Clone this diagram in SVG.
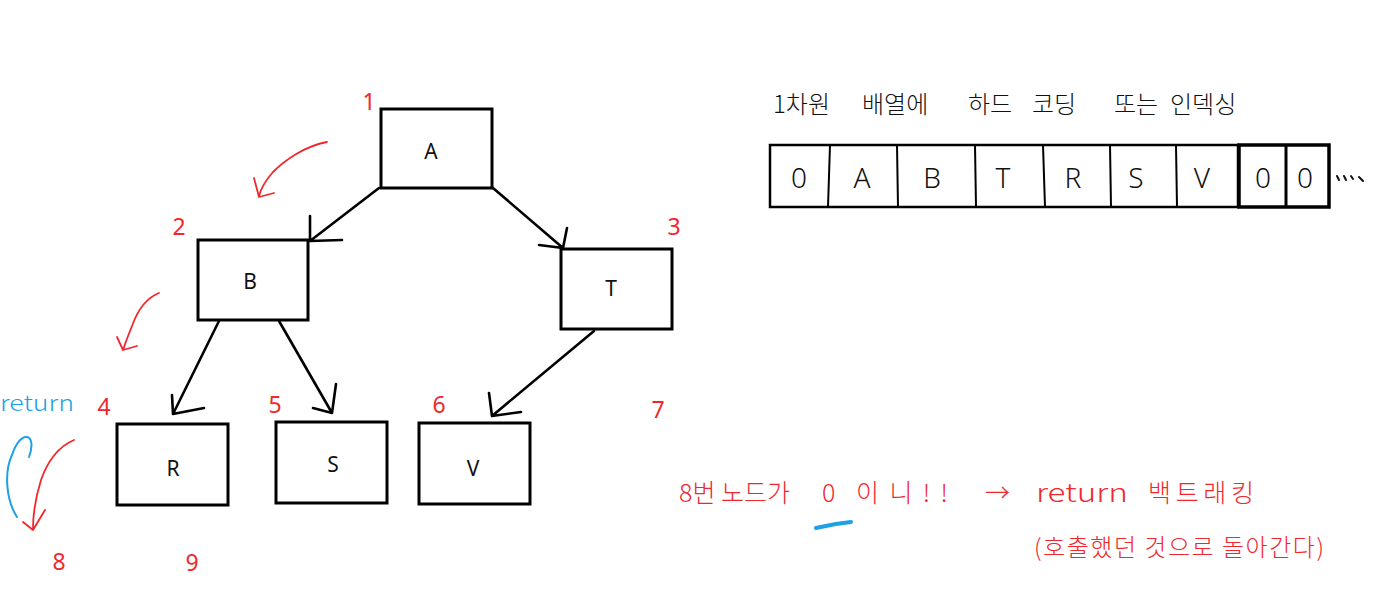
<svg xmlns="http://www.w3.org/2000/svg" width="1397" height="604" viewBox="0 0 1397 604">
<style>
.box{fill:#fff;stroke:#000;stroke-width:3}
.lbl{font-family:"Noto Sans","Liberation Sans",sans-serif;font-size:21px;fill:#111;text-anchor:middle}
.num{font-family:"Noto Sans","Liberation Sans",sans-serif;font-size:23px;fill:#f0282d;text-anchor:middle}
.edge{fill:none;stroke:#000;stroke-width:2.6;stroke-linecap:round;stroke-linejoin:round}
.red{fill:none;stroke:#f0282d;stroke-width:1.8;stroke-linecap:round;stroke-linejoin:round}
.blue{fill:none;stroke:#1ea0e6;stroke-width:2;stroke-linecap:round;stroke-linejoin:round}
.hw{font-family:"Noto Sans CJK KR","Noto Sans",sans-serif;font-weight:300}
.cell{font-family:"Noto Sans","Liberation Sans",sans-serif;font-weight:300;font-size:28px;fill:#111;text-anchor:middle}
.arr{fill:none;stroke:#000;stroke-width:2}
</style>
<rect width="1397" height="604" fill="#fff"/>

<g id="connectors">
  <path class="edge" d="M379 188 L310 241 M310 216 L310 241 L342 240"/>
  <path class="edge" d="M493 188 L563 248 M567 228 L563 248 L539 245"/>
  <path class="edge" d="M219 321 L173 414 M172 395 L173 414 L204 408"/>
  <path class="edge" d="M279 321 L332 413 M336 384 L332 413 L313 408"/>
  <path class="edge" d="M594 331 L492 416 M489 393 L492 416 L521 412"/>
</g>

<g id="node-A"><rect class="box" x="381" y="109" width="111" height="79"/><text class="lbl" x="431" y="159">A</text></g>
<g id="node-B"><rect class="box" x="198" y="240" width="110" height="80"/><text class="lbl" x="250" y="289">B</text></g>
<g id="node-T"><rect class="box" x="561" y="249" width="111" height="80"/><text class="lbl" x="611" y="296">T</text></g>
<g id="node-R"><rect class="box" x="117" y="424" width="111" height="81"/><text class="lbl" x="173" y="476">R</text></g>
<g id="node-S"><rect class="box" x="276" y="422" width="111" height="81"/><text class="lbl" x="333" y="472">S</text></g>
<g id="node-V"><rect class="box" x="419" y="423" width="111" height="81"/><text class="lbl" x="473" y="476">V</text></g>

<g id="numbers">
  <text class="num" x="369" y="110">1</text>
  <text class="num" x="179" y="235">2</text>
  <text class="num" x="674" y="235">3</text>
  <text class="num" x="104" y="415">4</text>
  <text class="num" x="275" y="413">5</text>
  <text class="num" x="439" y="413">6</text>
  <text class="num" x="658" y="418">7</text>
  <text class="num" x="59" y="570">8</text>
  <text class="num" x="192" y="571">9</text>
</g>

<g id="traversal-marks">
  <path class="red" d="M327 142 C305 146 285 160 273 172 C266 180 261 188 259 196 M254 178 L259 197 L274 193"/>
  <path class="red" d="M159 293 C146 298 137 312 132 326 C128 336 125 344 123 350 M117 337 L123 350 L137 346"/>
  <path class="red" d="M74 440 C60 446 48 460 41 480 C36 496 33 512 33 529 M23 522 L33 530 L45 510"/>
  <path class="blue" d="M17 517 C6 500 4 472 12 455 C16 443 22 436 27 437 C32 438 33 446 29 457"/>
  <text class="hw" x="0" y="411" font-size="22" fill="#1ea0e6" textLength="74" lengthAdjust="spacingAndGlyphs">return</text>
</g>

<g id="array">
  <text class="hw" x="773" y="113" font-size="24" fill="#111">1차원</text>
  <text class="hw" x="862" y="113" font-size="24" fill="#111">배열에</text>
  <text class="hw" x="968" y="113" font-size="24" fill="#111">하드</text>
  <text class="hw" x="1032" y="113" font-size="24" fill="#111">코딩</text>
  <text class="hw" x="1114" y="113" font-size="24" fill="#111">또는</text>
  <text class="hw" x="1170" y="113" font-size="24" fill="#111">인덱싱</text>
  <rect x="770" y="145" width="468" height="62" fill="none" stroke="#000" stroke-width="2.5"/>
  <rect x="1239" y="145" width="90" height="62" fill="none" stroke="#000" stroke-width="3.5"/>
  <path class="arr" d="M830 145 L828 207 M897 145 L898 207 M975 145 L976 207 M1043 145 L1045 207 M1110 145 L1111 207 M1176 145 L1177 207"/>
  <path d="M1286 145 L1286 207" stroke="#000" stroke-width="3"/>
  <text class="cell" x="799" y="188">0</text>
  <text class="cell" x="862" y="188">A</text>
  <text class="cell" x="932" y="188">B</text>
  <text class="cell" x="1003" y="188">T</text>
  <text class="cell" x="1073" y="188">R</text>
  <text class="cell" x="1136" y="188">S</text>
  <text class="cell" x="1202" y="188">V</text>
  <text class="cell" x="1263" y="188">0</text>
  <text class="cell" x="1305" y="188">0</text>
  <path d="M1337 176 l2 4 M1344 176 l2 4 M1351 176 l2 3 M1359 177 l4 4" stroke="#111" stroke-width="2" stroke-linecap="round"/>
</g>

<g id="note">
  <text class="hw" x="679" y="502" font-size="25" fill="#f0282d">8번 노드가</text>
  <text class="hw" x="822" y="502" font-size="25" fill="#f0282d">0</text>
  <path d="M816 528 C828 525 840 523 851 522" stroke="#1ea0e6" stroke-width="4" stroke-linecap="round" fill="none"/>
  <text class="hw" x="856" y="502" font-size="25" fill="#f0282d" textLength="92" lengthAdjust="spacing">이니!!</text>
  <text class="hw" x="985" y="502" font-size="25" fill="#f0282d">→</text>
  <text class="hw" x="1036" y="502" font-size="25" fill="#f0282d" textLength="92" lengthAdjust="spacingAndGlyphs">return</text>
  <text class="hw" x="1148" y="502" font-size="25" fill="#f0282d" textLength="106" lengthAdjust="spacing">백트래킹</text>
  <text class="hw" x="1034" y="556" font-size="24" fill="#f0282d" textLength="290" lengthAdjust="spacing">(호출했던 것으로 돌아간다)</text>
</g>
</svg>
